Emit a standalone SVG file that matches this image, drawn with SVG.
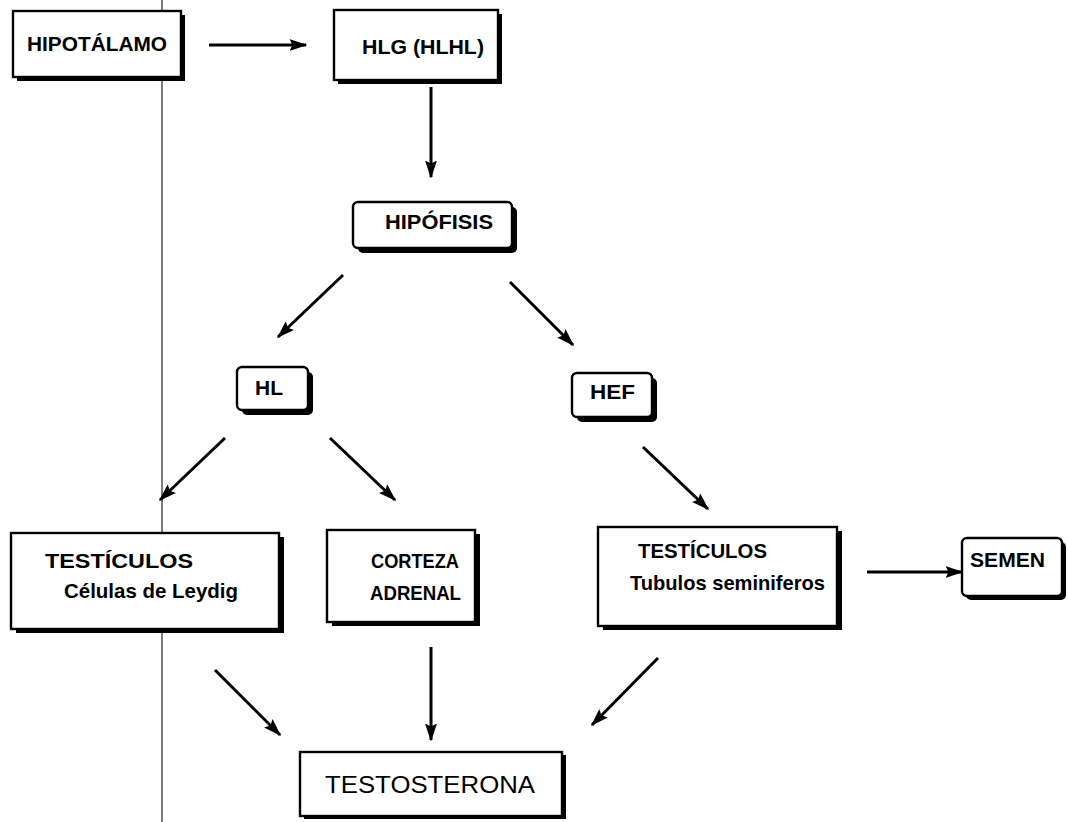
<svg xmlns="http://www.w3.org/2000/svg" width="1068" height="822" viewBox="0 0 1068 822">
<defs>
<style>
.box{fill:#fff;stroke:#000;stroke-width:2.4}
.sh{fill:#000}
.t{font-family:"Liberation Sans",Arial,sans-serif;font-weight:bold;font-size:21px;fill:#000}
.tr{font-family:"Liberation Sans",Arial,sans-serif;font-size:24px;fill:#000}
.c{stroke:#000;stroke-width:3;fill:none;marker-end:url(#ah)}
</style>
<marker id="ah" viewBox="0 0 12 8" refX="11" refY="4" markerWidth="6" markerHeight="4" markerUnits="strokeWidth" orient="auto">
<path d="M0,0 L12,4 L0,8 L2,4 z" fill="#000"/>
</marker>
</defs>
<rect width="1068" height="822" fill="#fff"/>
<line x1="162" y1="0" x2="162" y2="822" stroke="#222" stroke-width="1.2"/>
<g id="connectors">
<line class="c" x1="209" y1="45" x2="306" y2="45"/>
<line class="c" x1="431" y1="87" x2="431" y2="177"/>
<line class="c" x1="343" y1="275" x2="278" y2="337"/>
<line class="c" x1="510" y1="282" x2="573" y2="345"/>
<line class="c" x1="225" y1="438" x2="160" y2="500"/>
<line class="c" x1="330" y1="438" x2="395" y2="500"/>
<line class="c" x1="643" y1="447" x2="708" y2="509"/>
<line class="c" x1="867" y1="572" x2="962" y2="572"/>
<line class="c" x1="215" y1="670" x2="280" y2="735"/>
<line class="c" x1="431" y1="647" x2="431" y2="740"/>
<line class="c" x1="658" y1="658" x2="592" y2="725"/>
</g>
<g id="hipotalamo">
<rect class="sh" x="17" y="15" width="168" height="66"/>
<rect class="box" x="13" y="11" width="168" height="66"/>
<text class="t" x="27" y="51" textLength="140" lengthAdjust="spacingAndGlyphs">HIPOTÁLAMO</text>
</g>
<g id="hlg">
<rect class="sh" x="338" y="14" width="164" height="70"/>
<rect class="box" x="334" y="10" width="164" height="70"/>
<text class="t" x="362" y="54" textLength="122" lengthAdjust="spacingAndGlyphs">HLG (HLHL)</text>
</g>
<g id="hipofisis">
<rect class="sh" x="358" y="207" width="159" height="46" rx="5"/>
<rect class="box" x="353" y="202" width="159" height="46" rx="5"/>
<text class="t" x="385" y="229" textLength="108" lengthAdjust="spacingAndGlyphs">HIPÓFISIS</text>
</g>
<g id="hl">
<rect class="sh" x="242" y="372" width="71" height="43" rx="5"/>
<rect class="box" x="237" y="367" width="71" height="43" rx="5"/>
<text class="t" x="255" y="395">HL</text>
</g>
<g id="hef">
<rect class="sh" x="577" y="378" width="80" height="44" rx="5"/>
<rect class="box" x="572" y="373" width="80" height="44" rx="5"/>
<text class="t" x="590" y="399" textLength="45" lengthAdjust="spacingAndGlyphs">HEF</text>
</g>
<g id="testiculos-leydig">
<rect class="sh" x="16" y="537" width="268" height="96"/>
<rect class="box" x="11" y="533" width="268" height="96"/>
<text class="t" x="45" y="568" textLength="148" lengthAdjust="spacingAndGlyphs">TESTÍCULOS</text>
<text class="t" x="64" y="598" font-size="20" textLength="174" lengthAdjust="spacingAndGlyphs">Células de Leydig</text>
</g>
<g id="corteza">
<rect class="sh" x="332" y="534" width="148" height="92"/>
<rect class="box" x="327" y="530" width="148" height="92"/>
<text class="t" x="371" y="568" textLength="88" lengthAdjust="spacingAndGlyphs">CORTEZA</text>
<text class="t" x="370" y="600" textLength="91" lengthAdjust="spacingAndGlyphs">ADRENAL</text>
</g>
<g id="testiculos-tubulos">
<rect class="sh" x="603" y="531" width="239" height="99"/>
<rect class="box" x="598" y="527" width="239" height="99"/>
<text class="t" x="638" y="558" textLength="129" lengthAdjust="spacingAndGlyphs">TESTÍCULOS</text>
<text class="t" x="630" y="590" font-size="20" textLength="195" lengthAdjust="spacingAndGlyphs">Tubulos seminiferos</text>
</g>
<g id="semen">
<rect class="sh" x="966" y="542" width="100" height="58" rx="5"/>
<rect class="box" x="962" y="538" width="100" height="58" rx="5"/>
<text class="t" x="970" y="567" textLength="75" lengthAdjust="spacingAndGlyphs">SEMEN</text>
</g>
<g id="testosterona">
<rect class="sh" x="304" y="755" width="262" height="64"/>
<rect class="box" x="300" y="752" width="262" height="64"/>
<text class="tr" x="325" y="793" textLength="210" lengthAdjust="spacingAndGlyphs">TESTOSTERONA</text>
</g>
</svg>
